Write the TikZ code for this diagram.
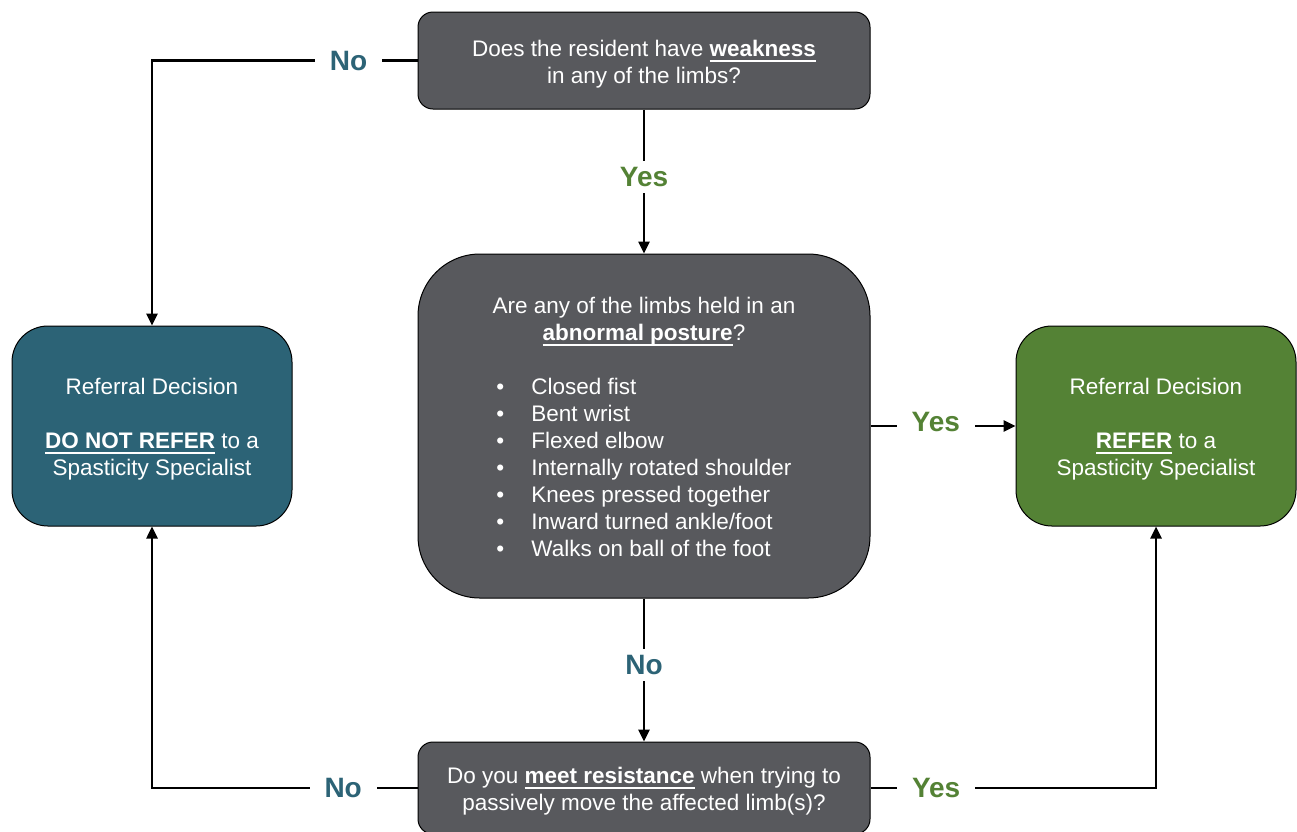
\documentclass[tikz,border=0pt]{standalone}
\usepackage{fontspec}
\setmainfont{Liberation Sans}
\usetikzlibrary{arrows.meta,positioning}
\definecolor{boxgray}{RGB}{88,89,93}
\definecolor{referteal}{RGB}{44,99,118}
\definecolor{refergreen}{RGB}{84,130,53}
\newlength{\ulw}
\newcommand{\ulbold}[1]{\settowidth{\ulw}{\textbf{#1}}\textbf{#1}\hspace{-\ulw}\rule[-5.5pt]{\ulw}{2pt}}
\newcommand{\topgap}[1][23pt]{\rule{0pt}{#1}}
\tikzset{
	question/.style={draw=black, line width=1pt, fill=boxgray, text=white, rounded corners=15pt, minimum width=452pt, align=center, font=\fontsize{22.5}{27}\selectfont},
	decision/.style={draw=black, line width=1pt, text=white, rounded corners=36pt, minimum width=280pt, minimum height=200pt, align=center, font=\fontsize{22.5}{27}\selectfont},
	answer/.style={fill=white, font=\fontsize{28}{32}\selectfont\bfseries, inner xsep=15pt, inner ysep=6pt},
	flow/.style={draw, line width=2.5pt, ->},
}
\begin{document}
\begin{tikzpicture}[x=1pt, y=-1pt, >={Triangle[length=12pt,width=11pt]}]
	\useasboundingbox (0,0) rectangle (1297,831);
	\node[question, minimum height=97pt] (weakness) at (644,60.5) {\topgap Does the resident have \ulbold{weakness}\\in any of the limbs?};
	\node[question, minimum height=344pt, rounded corners=62pt] (posture) at (644,426) {\topgap[27pt]Are any of the limbs held in an\\\ulbold{abnormal posture}?\\[27pt]
		{\begin{tabular}[t]{@{}l@{\hspace{27pt}}l@{}}
			\textbullet & Closed fist\\
			\textbullet & Bent wrist\\
			\textbullet & Flexed elbow\\
			\textbullet & Internally rotated shoulder\\
			\textbullet & Knees pressed together\\
			\textbullet & Inward turned ankle/foot\\
			\textbullet & Walks on ball of the foot
		\end{tabular}}};
	\node[question, minimum height=92pt] (resistance) at (644,788) {\topgap Do you \ulbold{meet resistance} when trying to\\passively move the affected limb(s)?};
	\node[decision, fill=referteal] (norefer) at (152,426) {\topgap Referral Decision\\[27pt]\ulbold{DO NOT REFER} to a\\Spasticity Specialist};
	\node[decision, fill=refergreen] (refer) at (1156,426) {\topgap Referral Decision\\[27pt]\ulbold{REFER} to a\\Spasticity Specialist};

	% yes / no branches
	\path[flow] (weakness.west) -| node[answer, text=referteal, pos=0.13] {No} (norefer.north);
	\path[flow] (weakness) -- node[answer, text=refergreen, pos=0.47] {Yes} (posture);
	\path[flow] (posture.east |- refer.west) -- node[answer, text=refergreen, pos=0.45, yshift=4pt] {Yes} (refer.west);
	\path[flow] (posture) -- node[answer, text=referteal, pos=0.465] {No} (resistance);
	\path[flow] (resistance.west) -| node[answer, text=referteal, pos=0.14] {No} (norefer.south);
	\path[flow] (resistance.east) -| node[answer, text=refergreen, pos=0.115] {Yes} (refer.south);
\end{tikzpicture}
\end{document}
